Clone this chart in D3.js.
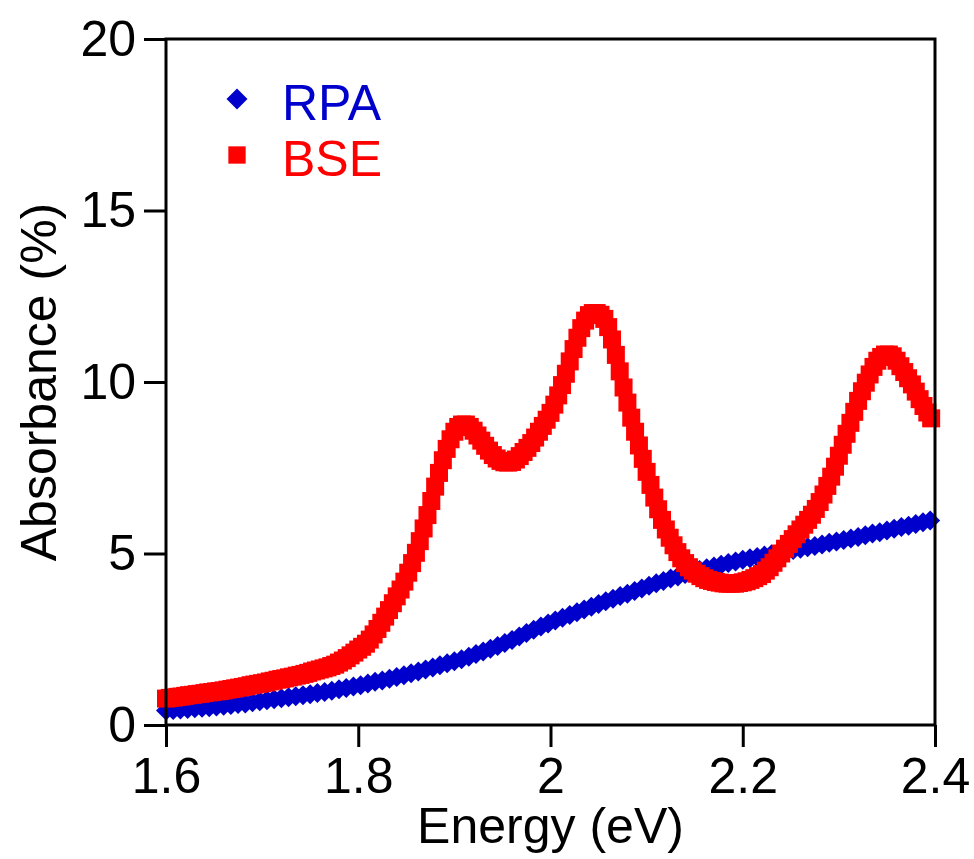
<!DOCTYPE html>
<html>
<head>
<meta charset="utf-8">
<script src="https://cdn.jsdelivr.net/npm/d3@7"></script>
<style>
  body { margin: 0; background: #fff; }
  text { font-family: "Liberation Sans", Arial, sans-serif; }
</style>
</head>
<body>
<div id="wrapper"></div>
<script>
// absorbance (%)
const rpaStart = 1.6, rpaStep = 0.0075;
const rpaValues = [
  0.42, 0.44, 0.45, 0.47, 0.49, 0.50, 0.52, 0.54, 0.56, 0.58,
  0.61, 0.63, 0.66, 0.69, 0.72, 0.75, 0.78, 0.81, 0.84, 0.87,
  0.90, 0.93, 0.96, 1.00, 1.04, 1.08, 1.12, 1.16, 1.21, 1.26,
  1.30, 1.35, 1.40, 1.45, 1.51, 1.56, 1.62, 1.68, 1.74, 1.80,
  1.86, 1.92, 1.99, 2.07, 2.14, 2.22, 2.30, 2.39, 2.48, 2.58,
  2.68, 2.78, 2.87, 2.96, 3.05, 3.13, 3.21, 3.29, 3.37, 3.45,
  3.53, 3.61, 3.68, 3.76, 3.83, 3.91, 3.98, 4.06, 4.13, 4.20,
  4.27, 4.33, 4.40, 4.46, 4.52, 4.57, 4.62, 4.67, 4.72, 4.77,
  4.82, 4.86, 4.90, 4.94, 4.98, 5.02, 5.06, 5.10, 5.14, 5.18,
  5.22, 5.26, 5.31, 5.35, 5.39, 5.44, 5.48, 5.53, 5.58, 5.62,
  5.67, 5.72, 5.77, 5.81, 5.86, 5.91, 5.96
];

const bseStart = 1.6, bseStep = 0.004;
const bseValues = [
  0.77, 0.79, 0.80, 0.82, 0.83, 0.85, 0.87, 0.88, 0.90, 0.91,
  0.93, 0.95, 0.96, 0.98, 0.99, 1.01, 1.03, 1.05, 1.07, 1.09,
  1.11, 1.13, 1.16, 1.18, 1.20, 1.22, 1.24, 1.27, 1.29, 1.32,
  1.34, 1.36, 1.39, 1.41, 1.44, 1.46, 1.49, 1.52, 1.56, 1.59,
  1.62, 1.65, 1.68, 1.72, 1.76, 1.82, 1.88, 1.95, 2.03, 2.11,
  2.20, 2.28, 2.37, 2.49, 2.64, 2.80, 2.98, 3.16, 3.35, 3.55,
  3.75, 3.95, 4.18, 4.44, 4.72, 5.02, 5.36, 5.73, 6.12, 6.53,
  6.95, 7.35, 7.72, 8.05, 8.33, 8.55, 8.69, 8.76, 8.76, 8.69,
  8.58, 8.44, 8.29, 8.14, 8.00, 7.87, 7.77, 7.70, 7.66, 7.65,
  7.67, 7.74, 7.84, 7.96, 8.08, 8.22, 8.38, 8.55, 8.72, 8.90,
  9.10, 9.34, 9.61, 9.91, 10.24, 10.60, 10.96, 11.29, 11.57, 11.79,
  11.95, 12.01, 12.01, 11.96, 11.84, 11.60, 11.24, 10.79, 10.31, 9.84,
  9.40, 8.96, 8.55, 8.15, 7.76, 7.38, 7.00, 6.63, 6.29, 5.98,
  5.70, 5.46, 5.24, 5.04, 4.86, 4.72, 4.60, 4.50, 4.41, 4.34,
  4.28, 4.23, 4.20, 4.17, 4.15, 4.13, 4.12, 4.12, 4.12, 4.14,
  4.16, 4.19, 4.23, 4.28, 4.34, 4.40, 4.50, 4.60, 4.73, 4.86,
  5.00, 5.14, 5.28, 5.42, 5.56, 5.70, 5.84, 5.98, 6.13, 6.30,
  6.50, 6.72, 6.97, 7.24, 7.53, 7.85, 8.17, 8.49, 8.81, 9.13,
  9.45, 9.73, 9.98, 10.22, 10.44, 10.62, 10.73, 10.80, 10.80, 10.75,
  10.62, 10.46, 10.29, 10.11, 9.93, 9.72, 9.50, 9.30, 9.11, 8.94
];

const xTicks = [1.6, 1.8, 2, 2.2, 2.4];
const yTicks = [0, 5, 10, 15, 20];
const seriesNames = ["RPA", "BSE"];
const seriesColors = ["#0000cd", "#ff0000"];

const rpaData = rpaValues.map((v, i) => ({ e: rpaStart + i * rpaStep, v: v }));
const bseData = bseValues.map((v, i) => ({ e: bseStart + i * bseStep, v: v }));

const dimensions = {
    width: 974,
    height: 859,
    margin: { top: 39, right: 39, bottom: 134, left: 166 },
};
dimensions.boundedWidth = dimensions.width - dimensions.margin.left - dimensions.margin.right
dimensions.boundedHeight = dimensions.height - dimensions.margin.top - dimensions.margin.bottom

const svg = d3.select("#wrapper")
    .append("svg")
    .attr("width", dimensions.width)
    .attr("height", dimensions.height);

const bounds = svg.append("g")
    .attr("transform", `translate(${dimensions.margin.left},${dimensions.margin.top})`);

const xScale = d3.scaleLinear()
    .domain([1.6, 2.4])
    .range([0, dimensions.boundedWidth]);

const yScale = d3.scaleLinear()
    .domain([0, 20])
    .range([dimensions.boundedHeight, 0]);

// markers: blue diamonds first, red squares on top
const diamond = d3.symbol().type(d3.symbolSquare).size(200);
const square = d3.symbol().type(d3.symbolSquare).size(324);

bounds.append("g")
    .selectAll("path")
    .data(rpaData)
    .join("path")
    .attr("d", diamond)
    .attr("transform", d => `translate(${xScale(d.e)},${yScale(d.v)}) rotate(45)`)
    .attr("fill", seriesColors[0]);

bounds.append("g")
    .selectAll("path")
    .data(bseData)
    .join("path")
    .attr("d", square)
    .attr("transform", d => `translate(${xScale(d.e)},${yScale(d.v)})`)
    .attr("fill", seriesColors[1]);

// axes
const tickLen = 22;
const xAxis = bounds.append("g")
    .attr("transform", `translate(0,${dimensions.boundedHeight})`)
    .call(d3.axisBottom(xScale).tickValues(xTicks).tickFormat(d3.format("")).tickSize(tickLen).tickPadding(10).tickSizeOuter(0));

const yAxis = bounds.append("g")
    .call(d3.axisLeft(yScale).tickValues(yTicks).tickSize(tickLen).tickPadding(8).tickSizeOuter(0));

[xAxis, yAxis].forEach(ax => {
    ax.select(".domain").remove();
    ax.selectAll(".tick line").attr("stroke", "black").attr("stroke-width", 3);
    ax.selectAll(".tick text")
        .attr("fill", "black")
        .attr("font-size", "50px")
        .attr("font-family", "'Liberation Sans', Arial, sans-serif");
});

// frame
bounds.append("rect")
    .attr("x", 0)
    .attr("y", 0)
    .attr("width", dimensions.boundedWidth)
    .attr("height", dimensions.boundedHeight)
    .attr("fill", "none")
    .attr("stroke", "black")
    .attr("stroke-width", 3);

// axis titles
bounds.append("text")
    .attr("x", dimensions.boundedWidth / 2)
    .attr("y", dimensions.boundedHeight + 118)
    .attr("text-anchor", "middle")
    .attr("font-size", "50px")
    .attr("fill", "black")
    .text("Energy (eV)");

svg.append("text")
    .attr("transform", `translate(56,${dimensions.margin.top + dimensions.boundedHeight / 2}) rotate(-90)`)
    .attr("text-anchor", "middle")
    .attr("font-size", "50px")
    .attr("fill", "black")
    .text("Absorbance (%)");

// legend
const legend = svg.append("g");
const legendSymbols = [
    d3.symbol().type(d3.symbolSquare).size(220)(),
    d3.symbol().type(d3.symbolSquare).size(300)()
];
seriesNames.forEach((name, i) => {
    const cy = 99 + i * 56;
    legend.append("path")
        .attr("d", legendSymbols[i])
        .attr("transform", `translate(237,${cy})` + (i === 0 ? " rotate(45)" : ""))
        .attr("fill", seriesColors[i]);
    legend.append("text")
        .attr("x", 282)
        .attr("y", cy + 21)
        .attr("font-size", "50px")
        .attr("fill", seriesColors[i])
        .text(name);
});
</script>
</body>
</html>
